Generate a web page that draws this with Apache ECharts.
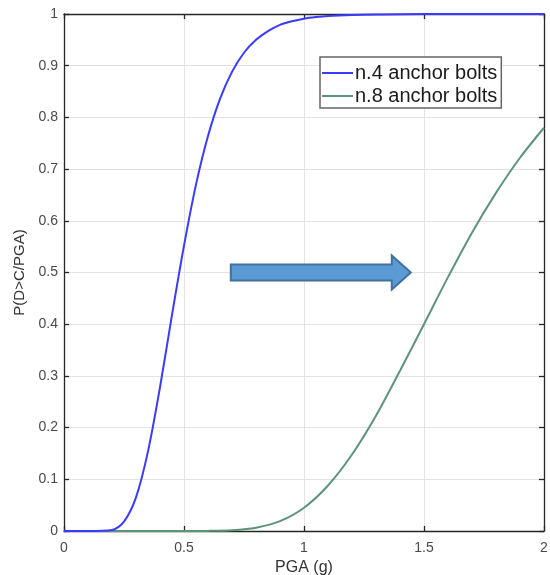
<!DOCTYPE html>
<html><head><meta charset="utf-8">
<script src="https://cdn.jsdelivr.net/npm/echarts@6/dist/echarts.min.js"></script>
<style>html,body{margin:0;padding:0;background:#fff}#c{width:550px;height:575px}</style>
</head><body><div id="c"></div>
<script>
var seriesNames = ['n.4 anchor bolts', 'n.8 anchor bolts'];
var xTicks = ['0', '0.5', '1', '1.5', '2'];
var pga4 = [0, 0.1, 0.2, 0.25, 0.3, 0.35, 0.4, 0.45, 0.5, 0.55, 0.6, 0.65, 0.7, 0.75, 0.8, 0.85, 0.9, 0.95, 1.0, 1.05, 1.1, 1.2, 1.3, 1.5, 2.0];
var prob4 = [0, 0, 0.002, 0.018, 0.065, 0.154, 0.278, 0.418, 0.552, 0.670, 0.764, 0.836, 0.888, 0.925, 0.950, 0.967, 0.979, 0.986, 0.991, 0.994, 0.996, 0.998, 0.999, 1.0, 1.0];
var pga8 = [0, 0.5, 0.6, 0.7, 0.8, 0.9, 1.0, 1.1, 1.2, 1.3, 1.4, 1.5, 1.6, 1.7, 1.8, 1.9, 2.0];
var prob8 = [0, 0, 0.0002, 0.0015, 0.0064, 0.019, 0.045, 0.088, 0.148, 0.223, 0.310, 0.400, 0.491, 0.577, 0.654, 0.722, 0.780];
var arrowFrom = [0.695, 0.5];
var arrowTo = [1.445, 0.5];

function zip(a, b) { return a.map(function (v, i) { return [v, b[i]]; }); }

var FONT = 'Liberation Sans, Arial, sans-serif';
var chart = echarts.init(document.getElementById('c'));
var axisLine = { show: true, onZero: false, lineStyle: { color: '#262626', width: 1.3 } };
var tick = { show: true, inside: true, length: 5, lineStyle: { color: '#262626', width: 1.3 } };
chart.setOption({
  animation: false,
  backgroundColor: '#fff',
  grid: { left: 64, right: 6, top: 14, bottom: 44, containLabel: false, outerBoundsMode: 'none' },
  legend: {
    data: seriesNames,
    orient: 'vertical',
    left: 320, top: 57,
    itemWidth: 31, itemHeight: 2, itemGap: 1,
    backgroundColor: '#fff',
    borderColor: '#666', borderWidth: 1.5,
    padding: [5, 4, 1, 2],
    icon: 'rect',
    textStyle: { fontFamily: FONT, fontSize: 20, lineHeight: 22, color: '#1a1a1a', padding: [0, 0, 0, -3] }
  },
  xAxis: [{
    type: 'value', min: 0, max: 2, interval: 0.5,
    name: 'PGA (g)', nameLocation: 'middle', nameGap: 26,
    nameTextStyle: { fontFamily: FONT, fontSize: 16, color: '#333' },
    axisLine: axisLine, axisTick: tick,
    axisLabel: { fontFamily: FONT, fontSize: 14, color: '#4a4a4a', margin: 10, formatter: function (v) { return xTicks[Math.round(v / 0.5)]; } },
    splitLine: { show: true, lineStyle: { color: '#e3e3e3', width: 1 } }
  }, {
    type: 'value', min: 0, max: 2, interval: 0.5, position: 'top',
    axisLine: axisLine, axisTick: tick, axisLabel: { show: false }, splitLine: { show: false }
  }],
  yAxis: [{
    type: 'value', min: 0, max: 1, interval: 0.1,
    name: 'P(D>C/PGA)', nameLocation: 'middle', nameGap: 33,
    nameTextStyle: { fontFamily: FONT, fontSize: 15, color: '#333' },
    axisLine: axisLine, axisTick: tick,
    axisLabel: { fontFamily: FONT, fontSize: 14, color: '#4a4a4a', margin: 6 },
    splitLine: { show: true, lineStyle: { color: '#e3e3e3', width: 1 } }
  }, {
    type: 'value', min: 0, max: 1, interval: 0.1, position: 'right',
    axisLine: axisLine, axisTick: tick, axisLabel: { show: false }, splitLine: { show: false }
  }],
  series: [{
    name: seriesNames[0], type: 'line', data: zip(pga4, prob4), smooth: 0.3,
    showSymbol: false, symbol: 'none', lineStyle: { color: '#3b3bff', width: 2 }, itemStyle: { color: '#3b3bff' }, z: 3
  }, {
    name: seriesNames[1], type: 'line', data: zip(pga8, prob8), smooth: 0.3,
    showSymbol: false, symbol: 'none', lineStyle: { color: '#5e937b', width: 2 }, itemStyle: { color: '#5e937b' }, z: 2
  }, {
    type: 'custom', data: [[arrowFrom[0], arrowFrom[1], arrowTo[0], arrowTo[1]]], z: 5,
    renderItem: function (params, api) {
      var p0 = api.coord([api.value(0), api.value(1)]);
      var p1 = api.coord([api.value(2), api.value(3)]);
      var hs = 8, hh = 17, hl = 19;
      var xb = p1[0] - hl, y = p0[1];
      return {
        type: 'polygon',
        shape: { points: [[p0[0], y - hs], [xb, y - hs], [xb, y - hh], [p1[0], y], [xb, y + hh], [xb, y + hs], [p0[0], y + hs]] },
        style: { fill: '#5b9bd5', stroke: '#41719c', lineWidth: 2 }
      };
    }
  }]
});
</script></body></html>
